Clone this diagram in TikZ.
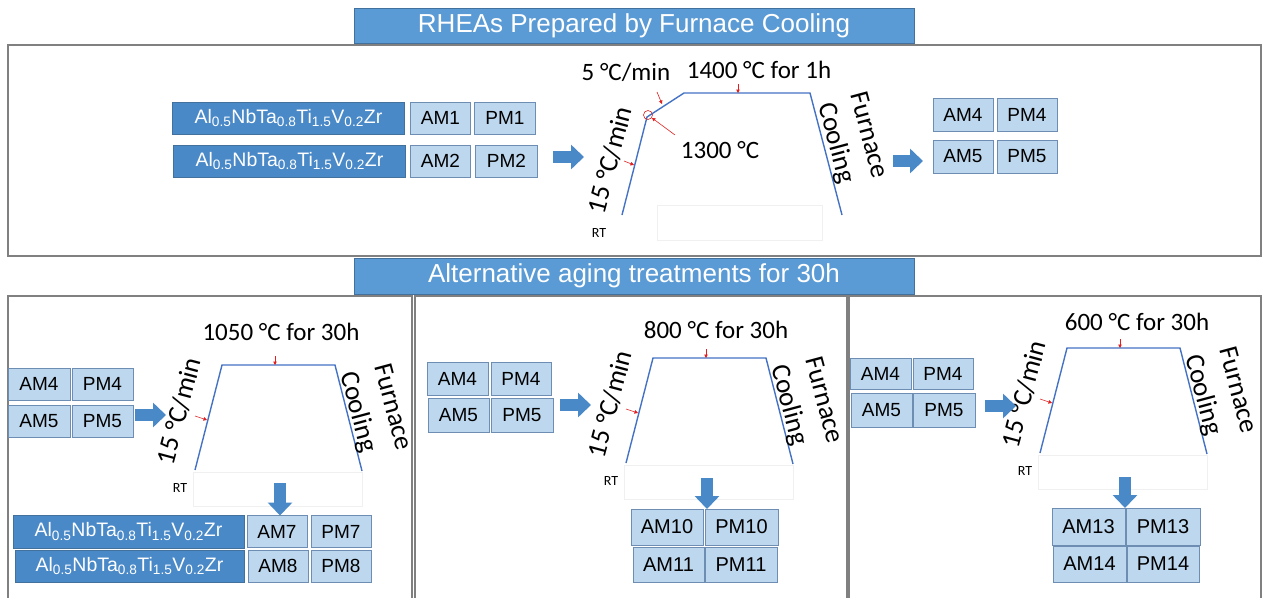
\documentclass[tikz,border=0pt]{standalone}
\usepackage{fontspec}
\setmainfont{Carlito}
\newfontfamily\arialfont{Liberation Sans}
\usetikzlibrary{arrows.meta,positioning}
\definecolor{hdblue}{HTML}{5B9BD5}
\definecolor{hdedge}{HTML}{41719C}
\definecolor{fmblue}{HTML}{4A89C8}
\definecolor{smfill}{HTML}{BDD7EE}
\definecolor{smedge}{HTML}{6D8DB3}
\definecolor{rampblue}{HTML}{4472C4}
\definecolor{frgray}{HTML}{808080}
\definecolor{tipred}{HTML}{E02020}
\newcommand{\hea}{Al\textsubscript{0.5}NbTa\textsubscript{0.8}Ti\textsubscript{1.5}V\textsubscript{0.2}Zr}
\tikzset{%
   hdbox/.style={draw=hdedge, fill=hdblue, text=white, minimum width=560pt, minimum height=35pt, inner sep=0pt, font=\arialfont\fontsize{26}{30}\selectfont},
   alloy/.style={draw=hdedge, fill=fmblue, text=white, minimum width=232pt, minimum height=32pt, inner sep=0pt, outer sep=0pt, font=\arialfont\fontsize{19.5}{22}\selectfont},
   smp/.style={draw=smedge, fill=smfill, minimum width=60pt, minimum height=32pt, inner sep=0pt, outer sep=0pt, font=\arialfont\fontsize{19}{22}\selectfont},
   bigsmp/.style={smp, minimum width=73pt, minimum height=36pt, font=\arialfont\fontsize{20}{22}\selectfont},
   ramp/.style={draw=rampblue, line width=1.4pt},
   tip/.style={draw=tipred, line width=0.6pt, -{Triangle[length=3.5pt,width=3.5pt]}},
   fat/.style={draw=fmblue, line width=12pt, -{Triangle[length=13pt,width=24pt]}},
   frame/.style={draw=frgray, line width=1.3pt},
   ghost/.style={draw=black!6, line width=0.6pt},
   lbl/.style={font=\fontsize{25}{28}\selectfont, inner sep=0pt},
   rot/.style={font=\fontsize{27}{29}\selectfont, inner sep=0pt},
   rt/.style={font=\fontsize{14}{16}\selectfont, inner sep=0pt},
}

\begin{document}
\begin{tikzpicture}[x=1pt, y=-1pt]
   \useasboundingbox (0,0) rectangle (1263,597);
   % frames
   \draw[frame] (8,45) rectangle (1261,256);
   \draw[frame] (8,598) |- (412,296) -- (412,598);
   \draw[frame] (415,598) |- (847,296) -- (847,598);
   \draw[frame] (849,598) |- (1261,296) -- (1261,598);
   \node[hdbox] (head1) at (634,25.5) {RHEAs Prepared by Furnace Cooling};
   \node[hdbox, minimum height=36pt] (head2) at (634,276) {Alternative aging treatments for 30h};

   % furnace cooling
   \node[alloy] (f1) at (288.5,118) {\hea};
   \node[smp, right=6pt of f1] (am1) {AM1};
   \node[smp, right=4pt of am1, minimum width=61pt] (pm1) {PM1};
   \node[alloy] (f2) at (289.5,161) {\hea};
   \node[smp, right=5pt of f2] (am2) {AM2};
   \node[smp, right=5pt of am2, minimum width=62pt] (pm2) {PM2};
   \coordinate (a1s) at (553,157);
   \coordinate (a1e) at (584,157);
   \draw[fat] (a1s) -- (a1e);

   \coordinate (r0) at (622,215);
   \coordinate (r1) at (647,117);
   \coordinate (r2) at (684,93);
   \coordinate (r3) at (810,93);
   \coordinate (r4) at (842,215);
   \draw[ramp] (r0) -- (r1) -- (r2) -- (r3) -- (r4);
   \draw[ghost] (657,205) rectangle (822,240);
   \node[circle, draw=tipred, line width=0.6pt, minimum size=9pt, inner sep=0pt] (c13) at (648,115) {};
   \node[lbl] (t5) at (626,72) {5 °C/min};
   \node[lbl] (t14) at (759,70) {1400 °C for 1h};
   \node[lbl] (t13) at (720,150) {1300 °C};
   \node[rot, rotate=75] (t15) at (610,160) {15 °C/min};
   \node[rot, rotate=-75] (tcool) at (836,143) {Cooling};
   \node[rot, rotate=-75] (tfurn) at (870,135) {Furnace};
   \node[rt] (trt) at (599,233) {RT};
   \coordinate (h1s) at (738,84);
   \coordinate (h1e) at (738,93);
   \draw[tip] (h1s) -- (h1e);
   \coordinate (h2s) at (657,92);
   \coordinate (h2e) at (662,104);
   \draw[tip] (h2s) -- (h2e);
   \coordinate (h3s) at (675,135);
   \draw[tip] (h3s) -- (c13);
   \coordinate (h4s) at (624,161);
   \coordinate (h4e) at (634,165);
   \draw[tip] (h4s) -- (h4e);

   \coordinate (a2s) at (893,161);
   \coordinate (a2e) at (923,161);
   \draw[fat] (a2s) -- (a2e);
   \node[smp, minimum height=33pt] (am4) at (963,114.5) {AM4};
   \node[smp, right=4pt of am4, minimum height=33pt] (pm4) {PM4};
   \node[smp, minimum height=33pt] (am5) at (963,156.5) {AM5};
   \node[smp, right=4pt of am5, minimum height=33pt] (pm5) {PM5};

   % aging ramps
   \foreach \x/\y/\n in {195/470/a, 626/463/b, 1040/453/c} {
      \coordinate (\n0) at (\x,\y);
      \coordinate (\n1) at (\x+27,\y-105);
      \coordinate (\n2) at (\x+140,\y-105);
      \coordinate (\n3) at (\x+167,\y+1);
      \draw[ramp] (\n0) -- (\n1) -- (\n2) -- (\n3);
      \draw[ghost] (\x-2,\y+2) rectangle (\x+167,\y+36);
      \coordinate (\n h) at (\x+80,\y-105);
      \coordinate (\n hs) at (\x+80,\y-114);
      \draw[tip] (\n hs) -- (\n h);
      \coordinate (\n s) at (\x+12,\y-50);
      \coordinate (\n ss) at (\x,\y-54);
      \draw[tip] (\n ss) -- (\n s);
      \node[rot, rotate=75] (\n rate) at (\x-16,\y-59) {15 °C/min};
      \node[rot, rotate=-75] (\n cool) at (\x+163,\y-58) {Cooling};
      \node[rot, rotate=-75] (\n furn) at (\x+199,\y-63) {Furnace};
      \node[rt] (\n rt) at (\x-15,\y+18) {RT};
   }
   \node[lbl] (ta) at (281,332) {1050 °C for 30h};
   \node[lbl] (tb) at (716,330) {800 °C for 30h};
   \node[lbl] (tc) at (1137,322) {600 °C for 30h};

   % 1050
   \node[smp, minimum width=62pt] (la4) at (39,384) {AM4};
   \node[smp, right=2pt of la4, minimum width=61pt] (lp4) {PM4};
   \node[smp, minimum width=62pt] (la5) at (39,421) {AM5};
   \node[smp, right=2pt of la5, minimum width=61pt] (lp5) {PM5};
   \coordinate (l1s) at (135,415);
   \coordinate (l1e) at (166,415);
   \draw[fat] (l1s) -- (l1e);
   \node[alloy, minimum width=231pt, minimum height=33pt] (lf7) at (128.5,531.5) {\hea};
   \node[smp, right=3pt of lf7] (la7) {AM7};
   \node[smp, right=4pt of la7] (lp7) {PM7};
   \node[alloy, minimum width=229pt] (lf8) at (129.5,566) {\hea};
   \node[smp, right=4pt of lf8] (la8) {AM8};
   \node[smp, right=3pt of la8] (lp8) {PM8};
   \coordinate (l2s) at (280,483);
   \draw[fat] (l2s) -- (l2s |- la7.north);

   % 800
   \node[smp, minimum width=61pt, minimum height=33pt] (ma4) at (457.5,378.5) {AM4};
   \node[smp, right=3pt of ma4, minimum height=33pt] (mp4) {PM4};
   \node[smp, minimum width=61pt, minimum height=34pt] (ma5) at (458.5,415) {AM5};
   \node[smp, right=2pt of ma5, minimum width=62pt, minimum height=34pt] (mp5) {PM5};
   \coordinate (m1s) at (560,405);
   \coordinate (m1e) at (591,405);
   \draw[fat] (m1s) -- (m1e);
   \node[bigsmp, minimum width=72pt] (ma10) at (667,527) {AM10};
   \node[bigsmp, right=2pt of ma10] (mp10) {PM10};
   \node[bigsmp, minimum width=71pt, minimum height=35pt] (ma11) at (668.5,564.5) {AM11};
   \node[bigsmp, right=1pt of ma11, minimum width=72pt, minimum height=35pt] (mp11) {PM11};
   \coordinate (m2s) at (707,478);
   \draw[fat] (m2s) -- (m2s |- ma10.north);

   % 600
   \node[smp, minimum width=61pt, minimum height=31pt] (ra4) at (880.5,373.5) {AM4};
   \node[smp, right=2pt of ra4, minimum height=31pt] (rp4) {PM4};
   \node[smp, minimum width=61pt, minimum height=34pt] (ra5) at (881.5,410) {AM5};
   \node[smp, right=1pt of ra5, minimum width=62pt, minimum height=34pt] (rp5) {PM5};
   \coordinate (r1s) at (985,406);
   \coordinate (r1e) at (1016,406);
   \draw[fat] (r1s) -- (r1e);
   \node[bigsmp, minimum height=37pt] (ra13) at (1088.5,526.5) {AM13};
   \node[bigsmp, right=1pt of ra13, minimum width=74pt, minimum height=37pt] (rp13) {PM13};
   \node[bigsmp] (ra14) at (1089.5,564) {AM14};
   \node[bigsmp, right=1pt of ra14, minimum width=72pt] (rp14) {PM14};
   \coordinate (r2s) at (1125,477);
   \draw[fat] (r2s) -- (r2s |- ra13.north);
\end{tikzpicture}
\end{document}
